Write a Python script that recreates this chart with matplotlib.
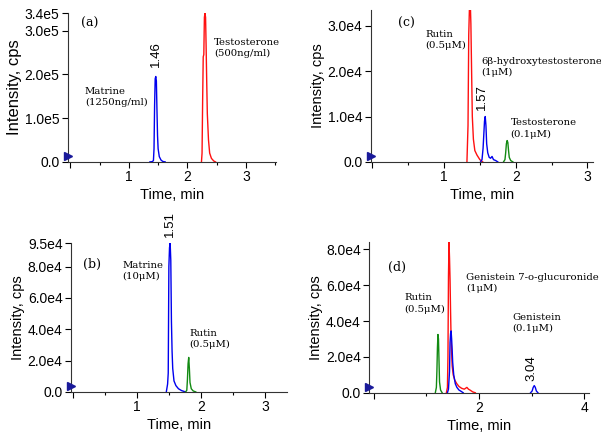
import matplotlib
matplotlib.use("Agg")
import matplotlib.pyplot as plt
from matplotlib.ticker import MultipleLocator

# ---- panel (a) ----
a_blue_t = [1.36, 1.40, 1.42, 1.43, 1.44, 1.45, 1.46, 1.47, 1.48, 1.49, 1.50, 1.52, 1.55, 1.58, 1.62]
a_blue_i = [0, 500, 3e3, 3e4, 1.3e5, 1.9e5, 1.95e5, 1.85e5, 1.2e5, 6e4, 3e4, 1.2e4, 4e3, 1e3, 0]
a_red_t = [2.24, 2.25, 2.26, 2.27, 2.28, 2.29, 2.30, 2.31, 2.32, 2.33, 2.34, 2.36, 2.38, 2.41, 2.45, 2.48]
a_red_i = [0, 2e4, 1.4e5, 2.4e5, 2.45e5, 3.3e5, 3.4e5, 3.3e5, 2.6e5, 1.8e5, 1.1e5, 5e4, 2e4, 8e3, 2e3, 0]
a_yticks = [0, 1e5, 2e5, 3e5, 3.4e5]
a_ylabels = ["0.0", "1.0e5", "2.0e5", "3.0e5", "3.4e5"]

# ---- panel (c) ----
c_red_t = [1.32, 1.335, 1.345, 1.355, 1.365, 1.375, 1.385, 1.395, 1.41, 1.43, 1.46, 1.50, 1.54]
c_red_i = [0, 8e3, 2.8e4, 3.4e4, 3.6e4, 3.05e4, 2.0e4, 1.0e4, 5e3, 2.5e3, 1.5e3, 500, 0]
c_blue_t = [1.51, 1.53, 1.545, 1.555, 1.565, 1.575, 1.585, 1.595, 1.61, 1.63, 1.65, 1.67, 1.69, 1.72, 1.75]
c_blue_i = [0, 500, 3e3, 6e3, 9e3, 1.0e4, 8e3, 4e3, 2e3, 1e3, 800, 1.2e3, 500, 300, 0]
c_green_t = [1.83, 1.85, 1.86, 1.87, 1.88, 1.89, 1.90, 1.91, 1.93, 1.96]
c_green_i = [0, 500, 2e3, 4e3, 4.7e3, 4.3e3, 2.5e3, 1e3, 300, 0]
c_yticks = [0, 1e4, 2e4, 3e4]
c_ylabels = ["0.0", "1.0e4", "2.0e4", "3.0e4"]

# ---- panel (b) ----
b_blue_t = [1.46, 1.48, 1.49, 1.50, 1.51, 1.52, 1.53, 1.54, 1.55, 1.56, 1.58, 1.61, 1.65, 1.70, 1.76]
b_blue_i = [0, 5e3, 1.2e4, 8e4, 9.2e4, 9.5e4, 8.4e4, 4.5e4, 2.6e4, 1.5e4, 7e3, 4e3, 2e3, 800, 0]
b_green_t = [1.76, 1.78, 1.79, 1.80, 1.81, 1.82, 1.83, 1.85, 1.88, 1.92]
b_green_i = [0, 1e3, 8e3, 1.8e4, 2.2e4, 1.5e4, 6e3, 2e3, 600, 0]
b_yticks = [0, 2e4, 4e4, 6e4, 8e4, 9.5e4]
b_ylabels = ["0.0", "2.0e4", "4.0e4", "6.0e4", "8.0e4", "9.5e4"]

# ---- panel (d) ----
d_green_t = [1.17, 1.19, 1.20, 1.21, 1.22, 1.23, 1.24, 1.25, 1.27, 1.30]
d_green_i = [0, 3e3, 1.2e4, 2.5e4, 3.25e4, 3.0e4, 1.8e4, 6e3, 1.5e3, 0]
d_red_t = [1.38, 1.40, 1.41, 1.42, 1.43, 1.44, 1.45, 1.46, 1.47, 1.49, 1.51, 1.54, 1.58,
           1.62, 1.67, 1.72, 1.77, 1.80, 1.83, 1.88, 1.93]
d_red_i = [0, 3e3, 2e4, 6.5e4, 8.4e4, 7.5e4, 6.3e4, 4.5e4, 3e4, 1.5e4, 1e4, 7e3, 5e3,
           3.5e3, 2.5e3, 2e3, 3e3, 2e3, 1.5e3, 500, 0]
d_blue_t = [1.40, 1.42, 1.44, 1.45, 1.46, 1.47, 1.48, 1.49, 1.50, 1.52, 1.55, 1.58, 1.62, 1.66, 1.70]
d_blue_i = [0, 2e3, 1.2e4, 2.8e4, 3.3e4, 3.45e4, 3.0e4, 2.4e4, 1.7e4, 1.0e4, 5e3, 3e3, 1.5e3, 800, 0]
d_blue2_t = [2.98, 3.01, 3.03, 3.05, 3.07, 3.09, 3.12]
d_blue2_i = [0, 1e3, 3e3, 4e3, 3e3, 1e3, 0]
d_yticks = [0, 2e4, 4e4, 6e4, 8e4]
d_ylabels = ["0.0", "2.0e4", "4.0e4", "6.0e4", "8.0e4"]

BLUE = "#0000ee"
RED = "#ff1010"
GREEN = "#128a12"
SANS = "Liberation Sans"
SERIF = "DejaVu Serif"
NOTE = 7.3


def style_axes(ax, xlim, ylim, yticks, ylabels, xmajor, xminor, ylabel_size=10.5):
	ax.set_xlim(xlim)
	ax.set_ylim(ylim)
	ax.spines["top"].set_visible(False)
	ax.spines["right"].set_visible(False)
	ax.spines["left"].set_color("#333333")
	ax.spines["bottom"].set_color("#333333")
	ax.xaxis.set_major_locator(MultipleLocator(xmajor))
	ax.xaxis.set_minor_locator(MultipleLocator(xminor))
	ax.set_yticks(yticks)
	ax.set_yticklabels(ylabels)
	ax.tick_params(axis="both", which="major", direction="out", length=4, width=0.8,
				   labelsize=10, pad=2)
	ax.tick_params(axis="x", which="minor", direction="out", length=2, width=0.8)
	# hide the 0 tick label on x
	labels = []
	for t in ax.get_xticks():
		if abs(t) < 1e-9:
			labels.append("")
		else:
			labels.append("%d" % round(t))
	ax.set_xticks(ax.get_xticks())
	ax.set_xticklabels(labels)
	ax.set_xlim(xlim)
	for lab in ax.get_xticklabels() + ax.get_yticklabels():
		lab.set_fontfamily(SANS)
	ax.set_xlabel("Time, min", fontsize=10.5, family=SANS, labelpad=3)
	ax.set_ylabel("Intensity, cps", fontsize=ylabel_size, family=SANS, labelpad=2)
	# little injection marker on the y axis
	ax.plot([xlim[0]], [ylim[1] * 0.04], marker=">", color="#1a1a9a", ms=6,
			clip_on=False, zorder=5)


fig = plt.figure(figsize=(6.01, 4.34), dpi=100)

# (a)
ax = fig.add_axes([0.113, 0.627, 0.346, 0.343])
ax.plot(a_blue_t, a_blue_i, color=BLUE, lw=1)
ax.plot(a_red_t, a_red_i, color=RED, lw=1)
style_axes(ax, (-0.04, 3.51), (0, 3.4e5), a_yticks, a_ylabels, 1, 0.5, ylabel_size=12)
ax.text(0.19, 3.17e5, "(a)", family=SERIF, fontsize=9, va="center")
ax.text(0.25, 1.71e5, "Matrine\n(1250ng/ml)", family=SERIF, fontsize=NOTE, va="top", linespacing=1.3)
ax.text(2.46, 2.83e5, "Testosterone\n(500ng/ml)", family=SERIF, fontsize=NOTE, va="top", linespacing=1.3)
ax.text(1.46, 2.47e5, "1.46", family=SANS, fontsize=9.5, rotation=90, ha="center", va="center")

# (c)
ax = fig.add_axes([0.617, 0.627, 0.370, 0.350])
ax.plot(c_red_t, c_red_i, color=RED, lw=1)
ax.plot(c_blue_t, c_blue_i, color=BLUE, lw=1)
ax.plot(c_green_t, c_green_i, color=GREEN, lw=1)
style_axes(ax, (-0.02, 3.08), (0, 3.35e4), c_yticks, c_ylabels, 1, 0.5)
ax.text(0.36, 3.06e4, "(c)", family=SERIF, fontsize=9, va="center")
ax.text(0.74, 2.91e4, "Rutin\n(0.5μM)", family=SERIF, fontsize=NOTE, va="top", linespacing=1.3)
ax.text(1.52, 2.32e4, "6β-hydroxytestosterone\n(1μM)", family=SERIF, fontsize=NOTE, va="top", linespacing=1.3)
ax.text(1.93, 0.96e4, "Testosterone\n(0.1μM)", family=SERIF, fontsize=NOTE, va="top", linespacing=1.3)
ax.text(1.53, 1.44e4, "1.57", family=SANS, fontsize=9.5, rotation=90, ha="center", va="center")

# (b)
ax = fig.add_axes([0.118, 0.097, 0.359, 0.343])
ax.plot(b_blue_t, b_blue_i, color=BLUE, lw=1)
ax.plot(b_green_t, b_green_i, color=GREEN, lw=1)
style_axes(ax, (-0.03, 3.34), (0, 9.5e4), b_yticks, b_ylabels, 1, 0.5)
ax.text(0.16, 8.14e4, "(b)", family=SERIF, fontsize=9, va="center")
ax.text(0.77, 8.36e4, "Matrine\n(10μM)", family=SERIF, fontsize=NOTE, va="top", linespacing=1.3)
ax.text(1.82, 4.02e4, "Rutin\n(0.5μM)", family=SERIF, fontsize=NOTE, va="top", linespacing=1.3)
ax.text(1.51, 1.07e5, "1.51", family=SANS, fontsize=9.5, rotation=90, ha="center", va="center",
		clip_on=False)

# (d)
ax = fig.add_axes([0.614, 0.095, 0.366, 0.347])
ax.plot(d_green_t, d_green_i, color=GREEN, lw=1)
ax.plot(d_red_t, d_red_i, color=RED, lw=1)
ax.plot(d_blue_t, d_blue_i, color=BLUE, lw=1)
ax.plot(d_blue2_t, d_blue2_i, color=BLUE, lw=1)
style_axes(ax, (-0.09, 4.09), (0, 8.4e4), d_yticks, d_ylabels, 2, 1)
ax.text(0.28, 6.98e4, "(d)", family=SERIF, fontsize=9, va="center")
ax.text(0.575, 5.54e4, "Rutin\n(0.5μM)", family=SERIF, fontsize=NOTE, va="top", linespacing=1.3)
ax.text(1.75, 6.7e4, "Genistein 7-o-glucuronide\n(1μM)", family=SERIF, fontsize=NOTE, va="top", linespacing=1.3)
ax.text(2.64, 4.44e4, "Genistein\n(0.1μM)", family=SERIF, fontsize=NOTE, va="top", linespacing=1.3)
ax.text(3.0, 1.37e4, "3.04", family=SANS, fontsize=9.5, rotation=90, ha="center", va="center")

fig.savefig("out.png", dpi=100)
